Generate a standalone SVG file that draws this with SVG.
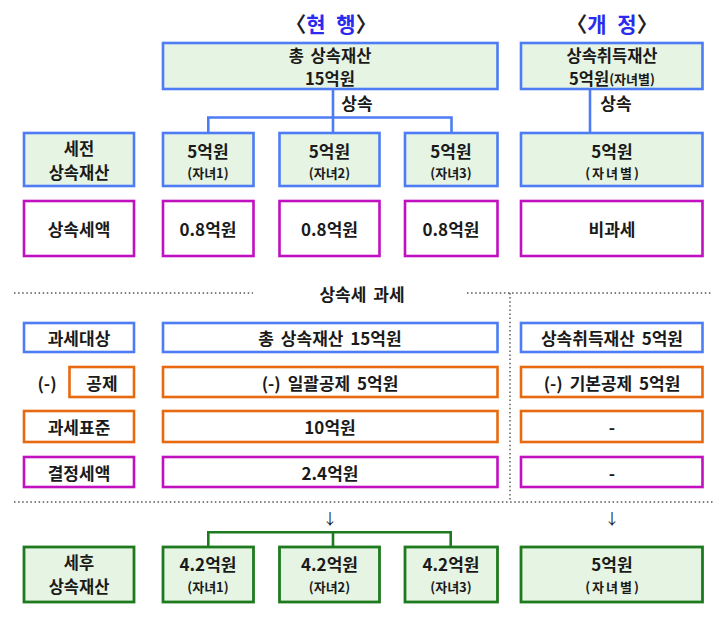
<svg xmlns="http://www.w3.org/2000/svg" width="717" height="620" viewBox="0 0 717 620">
<style>
text{font-family:"Noto Sans CJK KR","Noto Sans",sans-serif;font-weight:bold;fill:#1a1a1a;text-anchor:middle;dominant-baseline:central;word-spacing:3px}
.t{font-size:17px}
.t2{font-size:16.5px}
.s{font-size:13px}
.title{font-size:21px;word-spacing:6px}
.tb{fill:#2b2bf0}
.br{fill:#222}
.bl{fill:#e6f4e3;stroke:#4d7cf4;stroke-width:2.6}
.blw{fill:#fff;stroke:#4d7cf4;stroke-width:2.6}
.mg{fill:#fff;stroke:#c010c0;stroke-width:2.6}
.or{fill:#fff;stroke:#e8690f;stroke-width:2.6}
.gr{fill:#e6f4e3;stroke:#1e7a1e;stroke-width:2.8}
.cb{fill:none;stroke:#4d7cf4;stroke-width:2.6}
.cg{fill:none;stroke:#1e7a1e;stroke-width:2.6}
.dot{fill:none;stroke:#555;stroke-width:1.4;stroke-dasharray:1.5 2.6}
.ar{font-size:15px;font-weight:normal;fill:#222}
.sp{word-spacing:0;letter-spacing:2px}
</style>
<rect width="717" height="620" fill="#fff"/>
<g id="titles">
<text class="title" x="331" y="23"><tspan class="br">〈</tspan><tspan class="tb">현 행</tspan><tspan class="br">〉</tspan></text>
<text class="title" x="612" y="23"><tspan class="br">〈</tspan><tspan class="tb">개 정</tspan><tspan class="br">〉</tspan></text>
</g>
<g id="connectors">
<path class="cb" d="M333,89 V117.5 M208.3,117.5 H451.5 M208.3,116.3 V133 M333,117.5 V133 M451.5,116.3 V133"/>
<path class="cb" d="M590,89 V133"/>
<path class="cg" d="M208.3,532.3 H450.7 M208.3,531 V547 M333,532.3 V547 M450.7,531 V547"/>
<path class="dot" d="M14,293 H253 M467,293 H713 M14,502 H713 M510,293 V502"/>
</g>
<g id="label-sangsok1"><text class="t" x="357" y="102">상속</text></g>
<g id="label-sangsok2"><text class="t" x="616" y="102">상속</text></g>
<g id="label-tax"><text class="t" x="362" y="293">상속세 과세</text></g>
<g id="arrow1"><text class="ar" x="330" y="517">↓</text></g>
<g id="arrow2"><text class="ar" x="612" y="517">↓</text></g>
<g id="top-cur">
<rect class="bl" x="163" y="43" width="334.5" height="46"/>
<text class="t2"><tspan x="330" y="54.5">총 상속재산</tspan><tspan x="330" y="78">15억원</tspan></text>
</g>
<g id="top-new">
<rect class="bl" x="521" y="43" width="181.5" height="46"/>
<text class="t2"><tspan x="612" y="54.5">상속취득재산</tspan><tspan x="612" y="78">5억원<tspan class="s">(자녀별)</tspan></tspan></text>
</g>
<g id="lbl-pre">
<rect class="bl" x="24" y="133" width="110" height="53"/>
<text class="t2"><tspan x="79" y="148">세전</tspan><tspan x="79" y="171.5">상속재산</tspan></text>
</g>
<g id="pre-1">
<rect class="bl" x="163" y="133" width="90.5" height="53"/>
<text class="t"><tspan x="208" y="150">5억원</tspan><tspan class="s" x="208" y="172">(자녀1)</tspan></text>
</g>
<g id="pre-2">
<rect class="bl" x="279.5" y="133" width="100" height="53"/>
<text class="t"><tspan x="329.5" y="150">5억원</tspan><tspan class="s" x="329.5" y="172">(자녀2)</tspan></text>
</g>
<g id="pre-3">
<rect class="bl" x="405" y="133" width="92.5" height="53"/>
<text class="t"><tspan x="451" y="150">5억원</tspan><tspan class="s" x="451" y="172">(자녀3)</tspan></text>
</g>
<g id="pre-new">
<rect class="bl" x="521" y="133" width="181.5" height="53"/>
<text class="t"><tspan x="612" y="150">5억원</tspan><tspan class="s sp" x="613" y="172">(자녀별)</tspan></text>
</g>
<g id="lbl-tax">
<rect class="mg" x="24" y="201" width="110" height="55"/>
<text class="t" x="79" y="228.5">상속세액</text>
</g>
<g id="tax-1">
<rect class="mg" x="163" y="201" width="90.5" height="55"/>
<text class="t" x="208" y="228.5">0.8억원</text>
</g>
<g id="tax-2">
<rect class="mg" x="279.5" y="201" width="100" height="55"/>
<text class="t" x="329.5" y="228.5">0.8억원</text>
</g>
<g id="tax-3">
<rect class="mg" x="405" y="201" width="92.5" height="55"/>
<text class="t" x="451" y="228.5">0.8억원</text>
</g>
<g id="tax-new">
<rect class="mg" x="521" y="201" width="181.5" height="55"/>
<text class="t" x="612" y="228.5">비과세</text>
</g>
<g id="lbl-target">
<rect class="blw" x="24" y="323" width="110" height="29"/>
<text class="t" x="79" y="337.5">과세대상</text>
</g>
<g id="target-cur">
<rect class="blw" x="163" y="323" width="334.5" height="29"/>
<text class="t" x="330" y="337.5">총 상속재산 15억원</text>
</g>
<g id="target-new">
<rect class="blw" x="521" y="323" width="181.5" height="29"/>
<text class="t" x="612" y="337.5">상속취득재산 5억원</text>
</g>
<g id="lbl-deduct">
<text class="t" x="47" y="382">(-)</text>
<rect class="or" x="69.5" y="367" width="64.5" height="30"/>
<text class="t" x="102" y="382">공제</text>
</g>
<g id="deduct-cur">
<rect class="or" x="163" y="367" width="334.5" height="30"/>
<text class="t" x="330" y="382">(-) 일괄공제 5억원</text>
</g>
<g id="deduct-new">
<rect class="or" x="521" y="367" width="181.5" height="30"/>
<text class="t" x="612" y="382">(-) 기본공제 5억원</text>
</g>
<g id="lbl-base">
<rect class="or" x="24" y="411" width="110" height="31"/>
<text class="t" x="79" y="426.5">과세표준</text>
</g>
<g id="base-cur">
<rect class="or" x="163" y="411" width="334.5" height="31"/>
<text class="t" x="330" y="426.5">10억원</text>
</g>
<g id="base-new">
<rect class="or" x="521" y="411" width="181.5" height="31"/>
<text class="t" x="612" y="426.5">-</text>
</g>
<g id="lbl-final">
<rect class="mg" x="24" y="457" width="110" height="30"/>
<text class="t" x="79" y="472">결정세액</text>
</g>
<g id="final-cur">
<rect class="mg" x="163" y="457" width="334.5" height="30"/>
<text class="t" x="330" y="472">2.4억원</text>
</g>
<g id="final-new">
<rect class="mg" x="521" y="457" width="181.5" height="30"/>
<text class="t" x="612" y="472">-</text>
</g>
<g id="lbl-post">
<rect class="gr" x="24" y="547" width="110" height="55"/>
<text class="t2"><tspan x="79" y="562">세후</tspan><tspan x="79" y="585.5">상속재산</tspan></text>
</g>
<g id="post-1">
<rect class="gr" x="163" y="547" width="90.5" height="55"/>
<text class="t"><tspan x="208" y="563">4.2억원</tspan><tspan class="s" x="208" y="586">(자녀1)</tspan></text>
</g>
<g id="post-2">
<rect class="gr" x="279.5" y="547" width="100" height="55"/>
<text class="t"><tspan x="329.5" y="563">4.2억원</tspan><tspan class="s" x="329.5" y="586">(자녀2)</tspan></text>
</g>
<g id="post-3">
<rect class="gr" x="405" y="547" width="92.5" height="55"/>
<text class="t"><tspan x="451" y="563">4.2억원</tspan><tspan class="s" x="451" y="586">(자녀3)</tspan></text>
</g>
<g id="post-new">
<rect class="gr" x="521" y="547" width="181.5" height="55"/>
<text class="t"><tspan x="612" y="563">5억원</tspan><tspan class="s sp" x="613" y="586">(자녀별)</tspan></text>
</g>
</svg>
